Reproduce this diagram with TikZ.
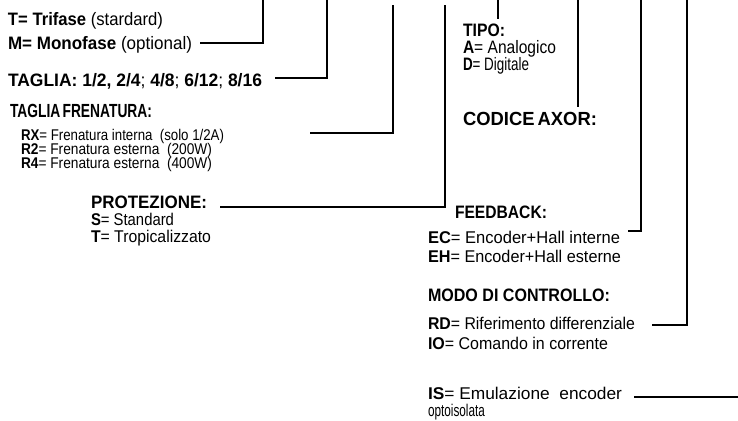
\documentclass[tikz,border=0pt]{standalone}
\usepackage{fontspec}
\usepackage{graphicx}
\setmainfont{Liberation Sans}
\newcommand{\tx}[3]{\fontsize{#1}{#1}\selectfont\resizebox{#2pt}{\height}{#3}}
\tikzset{
  lbl/.style={anchor=base west, inner sep=0pt, outer sep=0pt},
  wire/.style={line width=2pt, line join=miter, line cap=butt}
}
\begin{document}
\begin{tikzpicture}[x=1pt,y=-1pt]
\useasboundingbox (0,0) rectangle (738,420);
\clip (0,0) rectangle (738,420);
\fill[white] (0,0) rectangle (738,420);
% left texts
\node[lbl] (tri)  at (8,25.5)  {\tx{18}{155}{\textbf{T= Trifase} (stardard)}};
\node[lbl] (mono) at (8,49.5)  {\tx{18}{184}{\textbf{M= Monofase} (optional)}};
\node[lbl] (tag)  at (8,86.5)  {\tx{18}{254}{\textbf{TAGLIA: 1/2, 2/4}; \textbf{4/8}; \textbf{6/12}; \textbf{8/16}}};
\node[lbl] (tfr)  at (10,117) {\tx{19}{142}{\textbf{TAGLIA\,FRENATURA:}}};
\node[lbl] (rx)   at (21,140.5) {\tx{15.5}{203}{\textbf{RX}= Frenatura interna\ \ (solo 1/2A)}};
\node[lbl] (r2)   at (21,154.5) {\tx{15.5}{191}{\textbf{R2}= Frenatura esterna\ \ (200W)}};
\node[lbl] (r4)   at (21,168.5) {\tx{15.5}{191}{\textbf{R4}= Frenatura esterna\ \ (400W)}};
\node[lbl] (prot) at (91,208.5) {\tx{18}{116}{\textbf{PROTEZIONE:}}};
\node[lbl] (std)  at (91,225) {\tx{17}{83}{\textbf{S}= Standard}};
\node[lbl] (trop) at (91,242) {\tx{17}{120}{\textbf{T}= Tropicalizzato}};
% right texts
\node[lbl] (tipo) at (463,36.5) {\tx{18}{42}{\textbf{TIPO:}}};
\node[lbl] (ana)  at (463,53) {\tx{18}{93}{\textbf{A}= Analogico}};
\node[lbl] (dig)  at (463,70.5) {\tx{18}{66}{\textbf{D}= Digitale}};
\node[lbl] (cod)  at (463,125) {\tx{19}{134}{\textbf{CODICE\,AXOR:}}};
\node[lbl] (feed) at (455,218.5) {\tx{18}{92}{\textbf{FEEDBACK:}}};
\node[lbl] (ec)   at (428,243) {\tx{17}{192}{\textbf{EC}= Encoder+Hall interne}};
\node[lbl] (eh)   at (428,262) {\tx{17}{193}{\textbf{EH}= Encoder+Hall esterne}};
\node[lbl] (modo) at (428,301.5) {\tx{18}{182}{\textbf{MODO DI CONTROLLO:}}};
\node[lbl] (rd)   at (428,329) {\tx{17}{207}{\textbf{RD}= Riferimento differenziale}};
\node[lbl] (io)   at (428,349) {\tx{17}{180}{\textbf{IO}= Comando in corrente}};
\node[lbl] (is)   at (428,399.5) {\tx{17}{194}{\textbf{IS}=\ Emulazione\ \ encoder}};
\node[lbl] (opt)  at (428,416.5) {\tx{17}{57}{optoisolata}};
% connector coordinates
\coordinate (a1) at (200,43);  \coordinate (a2) at (263,0);
\coordinate (b1) at (275,78);  \coordinate (b2) at (327,0);
\coordinate (c1) at (310,133); \coordinate (c2) at (393,5);
\coordinate (d1) at (220,207); \coordinate (d2) at (445,5);
\coordinate (e1) at (498,0);   \coordinate (e2) at (498,19);
\coordinate (f1) at (578,0);   \coordinate (f2) at (578,107);
\coordinate (g1) at (628,231); \coordinate (g2) at (641,0);
\coordinate (h1) at (652,325); \coordinate (h2) at (687,0);
\coordinate (i1) at (634,397); \coordinate (i2) at (738,397);
\draw[wire] (a1) -| (a2);
\draw[wire] (b1) -| (b2);
\draw[wire] (c1) -| (c2);
\draw[wire] (d1) -| (d2);
\draw[wire] (e1) -- (e2);
\draw[wire] (f1) -- (f2);
\draw[wire] (g1) -| (g2);
\draw[wire] (h1) -| (h2);
\draw[wire] (i1) -- (i2);
\end{tikzpicture}
\end{document}
